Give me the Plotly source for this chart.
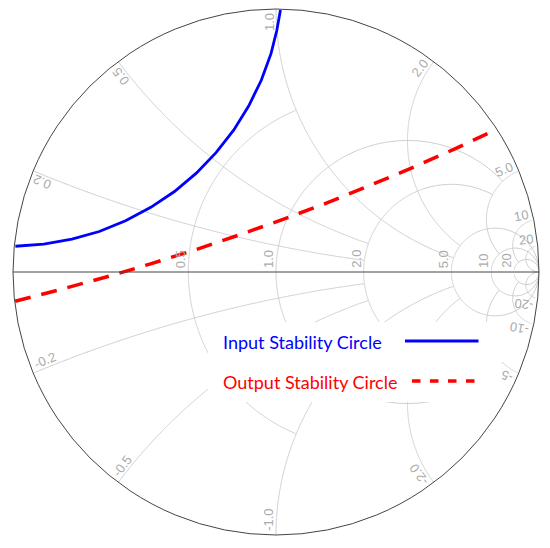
import numpy as np
import plotly.graph_objects as go

# grid: resistance circles and how far (in |reactance|) each one is drawn
grid_r = [0.5, 1, 2, 5, 10, 20]
grid_r_xmax = [1, 5, 5, np.inf, np.inf, np.inf]
grid_r_text = ["0.5", "1.0", "2.0", "5.0", "10", "20"]
# reactance arcs and how far (in resistance) each one is drawn
grid_x = [0.2, 0.5, 1, 2, 5, 10, 20]
grid_x_rmax = [2, 2, 5, 5, 10, 20, np.inf]
grid_x_text = ["0.2", "0.5", "1.0", "2.0", "5.0", "10", "20"]
grid_x_text_neg = ["-0.2", "-0.5", "-1.0", "-2.0", "-5.0", "-10", "-20"]

input_gamma_re = [-0.991, -0.883, -0.776, -0.672, -0.572, -0.476, -0.386, -0.303,
                  -0.228, -0.161, -0.104, -0.056, -0.019, 0.003, 0.017]
input_gamma_im = [0.098, 0.106, 0.125, 0.154, 0.195, 0.246, 0.306, 0.376,
                  0.454, 0.539, 0.631, 0.729, 0.830, 0.918, 0.996]
output_gamma_re = [-0.992, -0.821, -0.649, -0.480, -0.311, -0.143,
                   0.024, 0.189, 0.352, 0.517, 0.678, 0.838]
output_gamma_im = [-0.111, -0.067, -0.020, 0.030, 0.083, 0.140,
                   0.199, 0.261, 0.327, 0.396, 0.467, 0.542]

legend_names = ["Input Stability Circle", "Output Stability Circle"]

# the page body adds 8px around the figure
W, H = 542, 540
ML, MT, SIDE = 5, 1, 526
MR, MB = W - ML - SIDE, H - MT - SIDE
BODY = 8

GRID = "#cccccc"
LABEL = "#ababab"
BLUE = "#0000ff"
RED = "#ff0000"


def gamma_to_z(re, im):
    g = np.array(re) + 1j * np.array(im)
    return (1 + g) / (1 - g)


def to_paper(gx, gy):
    return 0.5 + 0.5 * gx, 0.5 + 0.5 * gy


def px(n):
    # pixels -> gamma units
    return 2.0 * n / SIDE


def wx(v):
    # window pixel x -> paper
    return (v - BODY - ML) / SIDE


def wy(v):
    return (H - MB - (v - BODY)) / SIDE


def text_len(s):
    w = 0
    for ch in s:
        w += 3.6 if ch == "." else (4.3 if ch == "-" else 7.2)
    return w


fig = go.Figure()

# grid lines
for r, xmax in zip(grid_r, grid_r_xmax):
    lim = np.arctan(xmax) if np.isfinite(xmax) else np.pi / 2 - 1e-4
    xs = np.tan(np.linspace(-lim, lim, 600))
    fig.add_trace(go.Scattersmith(real=np.full_like(xs, r), imag=xs, mode="lines",
                                  line=dict(color=GRID, width=1), hoverinfo="skip", showlegend=False))
for xv, rmax in zip(grid_x, grid_x_rmax):
    lim = np.arctan(rmax) if np.isfinite(rmax) else np.pi / 2 - 1e-4
    rs = np.tan(np.linspace(0, lim, 400))
    for s in (1, -1):
        fig.add_trace(go.Scattersmith(real=rs, imag=np.full_like(rs, s * xv), mode="lines",
                                      line=dict(color=GRID, width=1), hoverinfo="skip", showlegend=False))

z_in = gamma_to_z(input_gamma_re, input_gamma_im)
fig.add_trace(go.Scattersmith(real=z_in.real, imag=z_in.imag, mode="lines",
                              line=dict(color=BLUE, width=2.8),
                              name=legend_names[0], showlegend=False))
z_out = gamma_to_z(output_gamma_re, output_gamma_im)
fig.add_trace(go.Scattersmith(real=z_out.real, imag=z_out.imag, mode="lines",
                              line=dict(color=RED, width=3.5, dash="16px,11px"),
                              name=legend_names[1], showlegend=False))

label_font = dict(family="Liberation Sans, Arial", size=13, color=LABEL)
annotations = []

# resistance labels, upright along the real axis
for r, t in zip(grid_r, grid_r_text):
    gx = (r - 1) / (r + 1)
    x, y = to_paper(gx - px(7), px(4 + text_len(t) / 2))
    annotations.append(dict(x=x, y=y, xref="paper", yref="paper", text=t, showarrow=False,
                            textangle=-90, font=label_font, xanchor="center", yanchor="middle"))

# reactance labels, just inside the rim
for xv, tp, tn in zip(grid_x, grid_x_text, grid_x_text_neg):
    for val, t in ((xv, tp), (-xv, tn)):
        rim = complex(val * val - 1, 2 * val) / (val * val + 1)
        ang = np.angle(rim)
        read = ang if val > 0 else ang + np.pi  # outward for +x, inward for -x
        up = read + np.pi / 2
        d = px(4 + text_len(t) / 2)
        gx = np.cos(ang) * (1 - d) + np.cos(up) * px(7)
        gy = np.sin(ang) * (1 - d) + np.sin(up) * px(7)
        x, y = to_paper(gx, gy)
        annotations.append(dict(x=x, y=y, xref="paper", yref="paper", text=t, showarrow=False,
                                textangle=-np.degrees(read), font=label_font,
                                xanchor="center", yanchor="middle"))

# legend drawn by hand: white box, text on the left, line sample on the right
annotations.append(dict(x=wx(208), y=wy(322), xref="paper", yref="paper", text=" ", showarrow=False,
                        xanchor="left", yanchor="top", width=294, height=80, bgcolor="white",
                        borderpad=0, borderwidth=0))
legend_font = "Lato, Noto Sans, sans-serif"
for name, col, ypix in zip(legend_names, [BLUE, RED], [342, 382]):
    annotations.append(dict(x=wx(221), y=wy(ypix), xref="paper", yref="paper", text=name,
                            showarrow=False, xanchor="left", yanchor="middle",
                            font=dict(family=legend_font, size=18, color=col)))
# solid sample
annotations.append(dict(x=wx(405), y=wy(341), xref="paper", yref="paper", text="", showarrow=True,
                        ax=75, ay=0, arrowhead=0, arrowwidth=2.8, arrowcolor=BLUE,
                        standoff=0, startstandoff=0))
# dashed sample
for x0 in [412, 430, 448, 466]:
    annotations.append(dict(x=wx(x0), y=wy(381), xref="paper", yref="paper", text="", showarrow=True,
                            ax=10, ay=0, arrowhead=0, arrowwidth=3.5, arrowcolor=RED,
                            standoff=0, startstandoff=0))

fig.update_layout(
    width=W, height=H,
    margin=dict(l=ML, r=MR, t=MT, b=MB),
    paper_bgcolor="white",
    showlegend=False,
    smith=dict(
        domain=dict(x=[0, 1], y=[0, 1]),
        bgcolor="white",
        realaxis=dict(showgrid=False, showticklabels=False, ticks="",
                      linecolor="#444444", linewidth=1),
        imaginaryaxis=dict(showgrid=False, showticklabels=False, ticks="",
                           linecolor="#444444", linewidth=1),
    ),
    annotations=annotations,
)

fig.write_html("out.html")
